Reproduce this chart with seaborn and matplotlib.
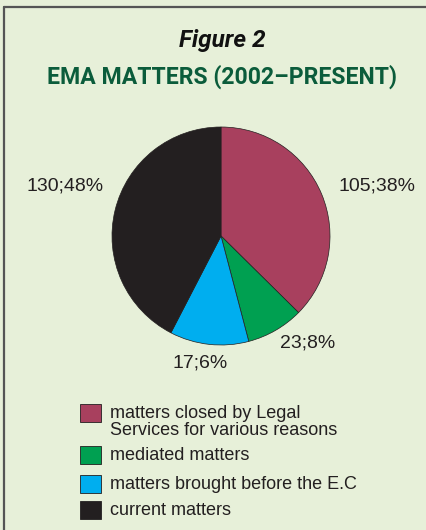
import matplotlib
matplotlib.use("Agg")
import matplotlib.pyplot as plt
import seaborn as sns
from matplotlib.patches import Rectangle

# ---- data ----
categories = ["matters closed by Legal\nServices for various reasons",
              "mediated matters",
              "matters brought before the E.C",
              "current matters"]
counts = [105, 23, 17, 130]
percent_labels = [38, 8, 6, 48]
# slice shares as drawn in the picture (percent of the circle)
slice_shares = [37.4, 8.5, 11.7, 42.4]
colors = ["#a8405e", "#00a051", "#00aeef", "#231f20"]

sns.set_theme(style="white")
plt.rcParams['font.family'] = ['Liberation Sans', 'DejaVu Sans']

W, H = 427, 530
bg = "#e7f0d9"
fig = plt.figure(figsize=(W / 100, H / 100), dpi=100, facecolor=bg)

def fx(x):
    return x / W

def fy(y):
    return 1 - y / H

# border lines (top and left)
fig.add_artist(plt.Line2D([fx(4), 1], [fy(7), fy(7)], color="#555555", lw=1.6))
fig.add_artist(plt.Line2D([fx(4), fx(4)], [fy(7), 0], color="#555555", lw=1.6))

# titles
fig.text(fx(222), fy(41), "Figure 2", ha="center", va="center",
         fontsize=17.5, fontweight="bold", fontstyle="italic", color="#111111",
         family=['Roboto', 'DejaVu Sans'])
fig.text(fx(222), fy(77), "EMA MATTERS (2002\u2013PRESENT)", ha="center", va="center",
         fontsize=16.6, fontweight="bold", color="#0b5c3b",
         family=['Roboto', 'DejaVu Sans'])

# pie
cx, cy, r = 221, 236, 109
ax = fig.add_axes([fx(cx - r), fy(cy + r), 2 * r / W, 2 * r / H])
ax.set_facecolor("none")
ax.pie(slice_shares, colors=colors, startangle=90, counterclock=False,
       radius=1.0, wedgeprops=dict(edgecolor="#231f20", linewidth=0.5))
ax.set_xlim(-1.0, 1.0)
ax.set_ylim(-1.0, 1.0)
ax.set_aspect("equal")
ax.axis("off")

# value labels
label_pos = [(377, 186), (308, 343), (200, 363), (65, 186)]
for (x, y), c, p in zip(label_pos, counts, percent_labels):
    fig.text(fx(x), fy(y), f"{c};{p}%", ha="center", va="center",
             fontsize=14, color="#231f20")

# legend
rows = [413, 455, 484, 510]
for yc, col, lab in zip(rows, colors, categories):
    fig.add_artist(Rectangle((fx(80), fy(yc + 9)), 21 / W, 18 / H,
                             facecolor=col, edgecolor="#231f20", linewidth=0.6,
                             transform=fig.transFigure))
    fig.text(fx(110), fy(yc - 8), lab, ha="left", va="top",
             fontsize=13, color="#231f20", linespacing=1.0)

fig.savefig("out.png", dpi=100, facecolor=bg)
